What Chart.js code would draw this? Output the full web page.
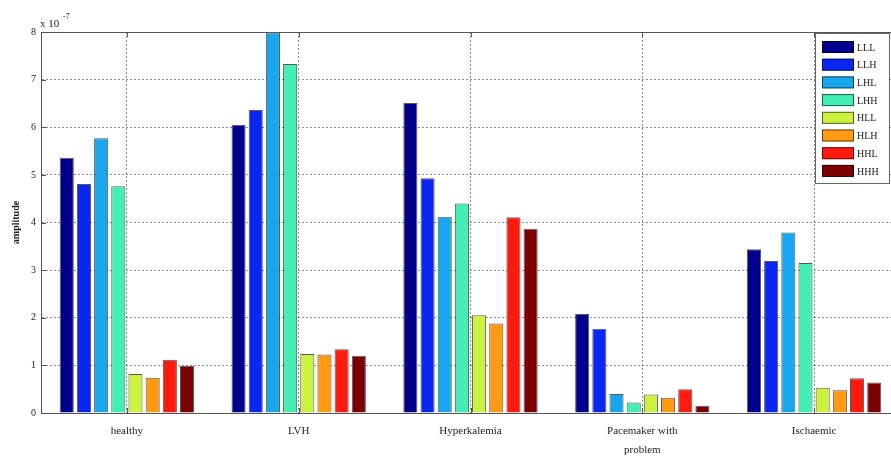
<!DOCTYPE html>
<html>
<head>
<meta charset="utf-8">
<script src="https://cdn.jsdelivr.net/npm/chart.js@4/dist/chart.umd.min.js"></script>
<style>
  html, body { margin: 0; padding: 0; background: #fff; overflow: hidden; }
  #wrap { width: 905px; height: 456px; }
</style>
</head>
<body>
<div id="wrap"><canvas id="c" width="905" height="456"></canvas></div>
<script>
// Wavelet sub-band amplitudes (x 10^-7) per ECG class
const categories = ['healthy', 'LVH', 'Hyperkalemia', ['Pacemaker with', 'problem'], 'Ischaemic'];
const bandNames = ['LLL', 'LLH', 'LHL', 'LHH', 'HLL', 'HLH', 'HHL', 'HHH'];
const LLL = [5.36, 6.05, 6.51, 2.08, 3.44];
const LLH = [4.81, 6.36, 4.93, 1.77, 3.19];
const LHL = [5.77, 7.99, 4.12, 0.40, 3.79];
const LHH = [4.76, 7.33, 4.40, 0.22, 3.15];
const HLL = [0.82, 1.24, 2.05, 0.39, 0.53];
const HLH = [0.74, 1.23, 1.88, 0.32, 0.48];
const HHL = [1.12, 1.34, 4.11, 0.50, 0.73];
const HHH = [0.99, 1.20, 3.87, 0.15, 0.64];
const yTicks = [0, 1, 2, 3, 4, 5, 6, 7, 8];

const seriesValues = [LLL, LLH, LHL, LHH, HLL, HLH, HHL, HHH];
const bandColors = ['#00008c', '#0a26f2', '#18a6ee', '#44efb6', '#cbf23e', '#ff9a12', '#ff1a10', '#7d0000'];

const SERIF = '"Liberation Serif", "DejaVu Serif", serif';

// Box frame, inward tick marks, exponent note and boxed legend
const matlabFrame = {
  id: 'matlabFrame',
  afterDraw(chart) {
    const ctx = chart.ctx;
    const { left, right, top, bottom } = chart.chartArea;
    const ys = chart.scales.y, xs = chart.scales.x;
    ctx.save();
    ctx.strokeStyle = '#555';
    ctx.lineWidth = 1;
    ctx.beginPath();
    ctx.moveTo(left, top + 0.5);
    ctx.lineTo(right, top + 0.5);
    ctx.stroke();
    ctx.beginPath();
    yTicks.forEach(v => {
      const p = Math.round(ys.getPixelForValue(v)) + 0.5;
      ctx.moveTo(left, p); ctx.lineTo(left + 5, p);
    });
    categories.forEach((c, i) => {
      const p = Math.round(xs.getPixelForValue(i)) + 0.5;
      ctx.moveTo(p, bottom); ctx.lineTo(p, bottom - 5);
      ctx.moveTo(p, top); ctx.lineTo(p, top + 5);
    });
    ctx.stroke();

    // exponent note
    ctx.fillStyle = '#222';
    ctx.textBaseline = 'alphabetic';
    ctx.textAlign = 'left';
    ctx.font = '11px ' + SERIF;
    ctx.fillText('x 10', 40, 27);
    ctx.font = '8px ' + SERIF;
    ctx.fillText('-7', 63, 19);

    // legend box
    const bx = 815, by = 33, bw = 74, bh = 150;
    ctx.fillStyle = '#fff';
    ctx.fillRect(bx, by, bw, bh);
    ctx.strokeStyle = '#666';
    ctx.strokeRect(bx + 0.5, by + 0.5, bw, bh);
    ctx.font = '10px ' + SERIF;
    ctx.textBaseline = 'middle';
    chart.data.datasets.forEach((ds, i) => {
      const cy = 47 + i * 17.7;
      ctx.fillStyle = ds.backgroundColor;
      ctx.fillRect(822, cy - 6, 32, 12);
      ctx.strokeStyle = 'rgba(0,0,0,0.6)';
      ctx.strokeRect(822.5, cy - 5.5, 31, 11);
      ctx.fillStyle = '#222';
      ctx.fillText(ds.label, 857, cy + 1);
    });
    ctx.restore();
  }
};

new Chart(document.getElementById('c'), {
  type: 'bar',
  data: {
    labels: categories,
    datasets: bandNames.map((name, i) => ({
      label: name,
      data: seriesValues[i],
      backgroundColor: bandColors[i],
      borderColor: 'rgba(0,0,0,0.65)',
      borderWidth: 1,
      categoryPercentage: 0.8,
      barPercentage: 0.82
    }))
  },
  options: {
    responsive: false,
    animation: false,
    layout: { padding: { top: 32, right: 5, left: 0, bottom: 0 } },
    plugins: { legend: { display: false }, tooltip: { enabled: false } },
    scales: {
      x: {
        grid: { offset: false, color: 'rgba(0,0,0,0.45)', drawTicks: false },
        border: { display: true, color: '#555', width: 1, dash: [2, 2] },
        ticks: { color: '#222', font: { family: SERIF, size: 11, lineHeight: 1.7 }, padding: 9, maxRotation: 0, autoSkip: false },
        afterFit(scale) { scale.height = 43; }
      },
      y: {
        min: 0, max: 8,
        afterBuildTicks(scale) { scale.ticks = yTicks.map(v => ({ value: v })); },
        grid: { color: 'rgba(0,0,0,0.45)', drawTicks: false },
        border: { display: true, color: '#555', width: 1, dash: [2, 2] },
        ticks: { color: '#222', font: { family: SERIF, size: 10 }, padding: 5 },
        title: { display: true, text: 'amplitude', color: '#222', font: { family: SERIF, size: 10, weight: 'bold' }, padding: { top: 10, bottom: 0 } },
        afterFit(scale) { scale.width = 41; }
      }
    }
  },
  plugins: [matlabFrame]
});
</script>
</body>
</html>
